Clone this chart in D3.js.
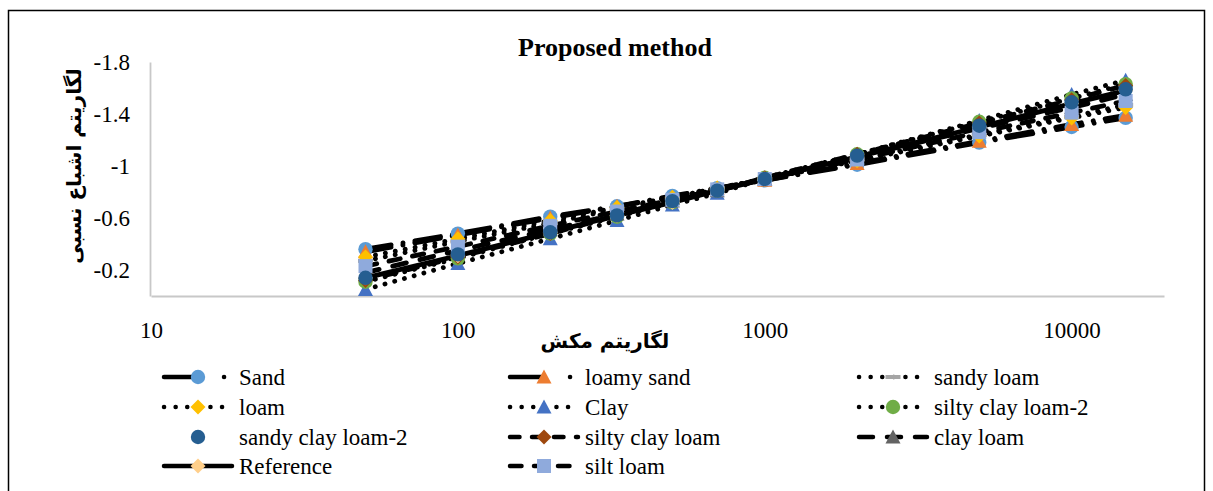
<!DOCTYPE html>
<html>
<head>
<meta charset="utf-8">
<script src="https://cdn.jsdelivr.net/npm/d3@7/dist/d3.min.js"></script>
<style>
  body { margin: 0; background: #fff; }
  svg { display: block; }
  .serif { font-family: "Liberation Serif", "Times New Roman", serif; }
  .fa { font-family: "DejaVu Sans", sans-serif; font-weight: bold; }
</style>
</head>
<body>
<svg id="chart" width="1213" height="491"></svg>
<script>
// Suction (x) values shared by every soil series
const suction = [50, 100, 200, 330, 500, 700, 1000, 2000, 5000, 10000, 15000];

// Log of relative saturation for each soil texture
const sand            = [-0.36, -0.48, -0.61, -0.69, -0.77, -0.83, -0.89, -1.01, -1.18, -1.30, -1.37];
const loamySand       = [-0.34, -0.47, -0.60, -0.69, -0.76, -0.83, -0.89, -1.02, -1.19, -1.32, -1.39];
const sandyLoam       = [-0.27, -0.42, -0.56, -0.67, -0.75, -0.83, -0.90, -1.05, -1.24, -1.38, -1.47];
const loam            = [-0.30, -0.44, -0.58, -0.68, -0.76, -0.83, -0.90, -1.04, -1.23, -1.37, -1.45];
const clay            = [-0.05, -0.25, -0.44, -0.58, -0.70, -0.79, -0.90, -1.09, -1.35, -1.55, -1.66];
const siltyClayLoam2  = [-0.11, -0.29, -0.48, -0.61, -0.72, -0.81, -0.91, -1.09, -1.34, -1.52, -1.63];
const sandyClayLoam2  = [-0.14, -0.32, -0.49, -0.62, -0.73, -0.81, -0.90, -1.08, -1.31, -1.49, -1.59];
const siltyClayLoam   = [-0.12, -0.30, -0.48, -0.62, -0.73, -0.81, -0.91, -1.09, -1.33, -1.51, -1.62];
const clayLoam        = [-0.18, -0.35, -0.51, -0.63, -0.73, -0.81, -0.90, -1.07, -1.29, -1.45, -1.55];
const reference       = [-0.14, -0.31, -0.49, -0.62, -0.72, -0.81, -0.90, -1.07, -1.30, -1.48, -1.58];
const siltLoam        = [-0.23, -0.38, -0.54, -0.65, -0.74, -0.82, -0.90, -1.05, -1.26, -1.41, -1.50];

// Legend labels in legend order
const seriesNames = ["Sand", "loamy sand", "sandy loam", "loam", "Clay", "silty clay loam-2",
  "sandy clay loam-2", "silty clay loam", "clay loam", "Reference", "silt loam"];

// Axis tick values and texts
const xTickValues = [10, 100, 1000, 10000];
const yTickValues = [-0.2, -0.6, -1, -1.4, -1.8];
const chartTitle = "Proposed method";
const xTitle = "لگاریتم مکش";
const yTitle = "لگاریتم اشباع نسبی";

const values = [sand, loamySand, sandyLoam, loam, clay, siltyClayLoam2,
  sandyClayLoam2, siltyClayLoam, clayLoam, reference, siltLoam];

// Line dash, marker shape and marker colour per series
const styles = [
  { dash: "26,12,0.1,12",  legendDash: "33,27,0.1,100", marker: "circle",   color: "#5B9BD5" },
  { dash: "26,12,0.1,12",  legendDash: "33,27,0.1,100", marker: "triangle", color: "#ED7D31" },
  { dash: "0.1,10",        legendDash: "0.1,11.5",      marker: "dash",     color: "#A5A5A5" },
  { dash: "0.1,10",        legendDash: "0.1,11.5",      marker: "diamond",  color: "#FFC000" },
  { dash: "0.1,10",        legendDash: "0.1,11.5",      marker: "triangle", color: "#4472C4" },
  { dash: "0.1,10",        legendDash: "0.1,11.5",      marker: "circle",   color: "#70AD47" },
  { dash: null,            legendDash: null,            marker: "circle",   color: "#255E91" },
  { dash: "9.5,12.5",      legendDash: "9.5,12.5",      marker: "diamond",  color: "#9E480E" },
  { dash: "14,14",         legendDash: "14,14",         marker: "triangle", color: "#636363" },
  { dash: "",              legendDash: "",              marker: "diamond",  color: "#FFCF8A" },
  { dash: "11.5,12.5",     legendDash: "11.5,12.5",     marker: "square",   color: "#8FAADC" }
];

// Marker stacking order (later drawn on top)
const markerOrder = [0, 1, 2, 3, 4, 5, 7, 8, 9, 10, 6];

const svg = d3.select("#chart");
const W = 1213, H = 491;
const plot = { left: 151, right: 1164, top: 62, bottom: 296 };

svg.append("rect").attr("width", W).attr("height", H).attr("fill", "#fff");
svg.append("rect")
  .attr("x", 8.5).attr("y", 10.5).attr("width", 1196).attr("height", 490)
  .attr("fill", "none").attr("stroke", "#000").attr("stroke-width", 1.5);

const x = d3.scaleLog().domain([10, 20000]).range([plot.left, plot.right]);
const y = d3.scaleLinear().domain([0, -1.8]).range([plot.bottom, plot.top]);

// Axes: light grey lines, no tick marks
const xAxis = svg.append("g")
  .attr("transform", `translate(0,${plot.bottom})`)
  .call(d3.axisBottom(x).tickValues(xTickValues).tickFormat(d3.format("d")).tickSize(0).tickPadding(20));
const yAxis = svg.append("g")
  .attr("transform", `translate(${plot.left - 1},0)`)
  .call(d3.axisLeft(y).tickValues(yTickValues).tickFormat(d => String(d)).tickSize(0).tickPadding(20));

[xAxis, yAxis].forEach(a => {
  a.select(".domain").attr("stroke", "#C8C8C8").attr("stroke-width", 1.8);
  a.selectAll("text").attr("class", "serif").attr("font-size", 23).attr("fill", "#000");
});
xAxis.selectAll("text").attr("dy", "0.95em");
yAxis.selectAll("text").attr("dy", "0.34em");

// Titles
svg.append("text").attr("class", "serif")
  .attr("x", 615).attr("y", 56).attr("text-anchor", "middle")
  .attr("font-size", 26).attr("font-weight", "bold").text(chartTitle);
svg.append("text").attr("class", "fa")
  .attr("x", 605).attr("y", 348).attr("text-anchor", "middle")
  .attr("font-size", 20).attr("direction", "rtl").text(xTitle);
svg.append("text").attr("class", "fa")
  .attr("transform", "translate(81,166) rotate(-90)")
  .attr("text-anchor", "middle")
  .attr("font-size", 20).attr("direction", "rtl").text(yTitle);

// Marker painter
function drawMarker(g, shape, color, cx, cy) {
  if (shape === "circle") {
    g.append("circle").attr("cx", cx).attr("cy", cy).attr("r", 7.2).attr("fill", color);
  } else if (shape === "triangle") {
    g.append("path").attr("d", `M${cx},${cy - 7.5}L${cx + 7.5},${cy + 6.5}L${cx - 7.5},${cy + 6.5}Z`).attr("fill", color);
  } else if (shape === "diamond") {
    g.append("path").attr("d", `M${cx},${cy - 7.5}L${cx + 7.5},${cy}L${cx},${cy + 7.5}L${cx - 7.5},${cy}Z`).attr("fill", color);
  } else if (shape === "square") {
    g.append("rect").attr("x", cx - 7).attr("y", cy - 7).attr("width", 14).attr("height", 14).attr("fill", color);
  } else if (shape === "dash") {
    g.append("rect").attr("x", cx - 7.5).attr("y", cy - 2).attr("width", 15).attr("height", 4).attr("fill", color);
  }
}

const line = d3.line().x((d, i) => x(suction[i])).y(d => y(d));

// Series lines
const linesG = svg.append("g");
values.forEach((vals, i) => {
  const s = styles[i];
  if (s.dash === null) return;
  linesG.append("path")
    .attr("d", line(vals))
    .attr("fill", "none").attr("stroke", "#000").attr("stroke-width", 4.8)
    .attr("stroke-linecap", "round").attr("stroke-linejoin", "round")
    .attr("stroke-dasharray", s.dash || null);
});

// Series markers on top of all lines
const markG = svg.append("g");
markerOrder.forEach(i => {
  const s = styles[i];
  values[i].forEach((v, j) => drawMarker(markG, s.marker, s.color, x(suction[j]), y(v)));
});

// Legend: three columns, row-major
const legCols = [162, 508, 857];
const legRows = [377, 407, 437, 466];
const legG = svg.append("g");
seriesNames.forEach((name, i) => {
  const col = i % 3, row = Math.floor(i / 3);
  const x0 = legCols[col], cy = legRows[row];
  const s = styles[i];
  if (s.legendDash !== null) {
    legG.append("line")
      .attr("x1", x0 + 2).attr("x2", x0 + 70).attr("y1", cy).attr("y2", cy)
      .attr("stroke", "#000").attr("stroke-width", 4.5).attr("stroke-linecap", "round")
      .attr("stroke-dasharray", s.legendDash || null);
  }
  drawMarker(legG, s.marker, s.color, x0 + 36, cy);
  legG.append("text").attr("class", "serif")
    .attr("x", x0 + 77).attr("y", cy).attr("dy", "0.33em")
    .attr("font-size", 23).attr("fill", "#000").text(name);
});
</script>
</body>
</html>
